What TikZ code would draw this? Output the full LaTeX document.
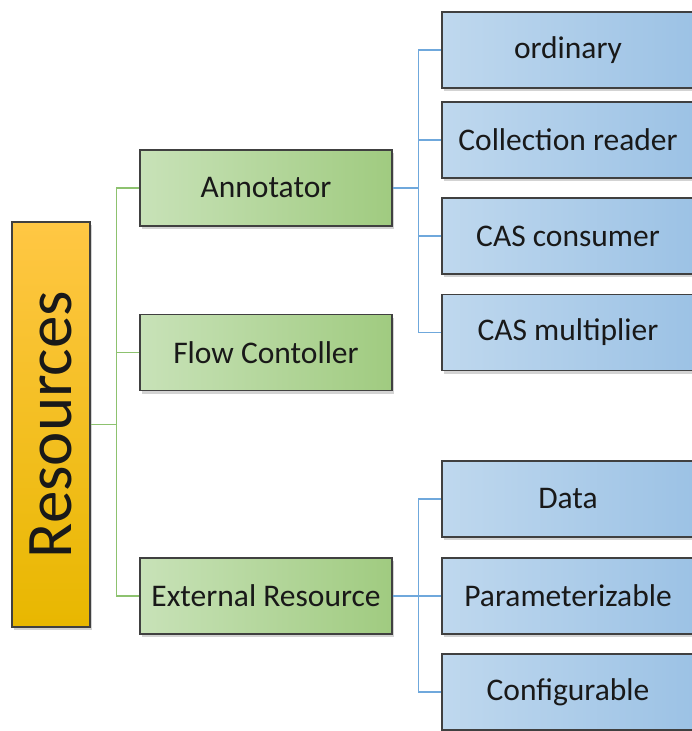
\documentclass[tikz,border=0pt]{standalone}
\usepackage{fontspec}
\setmainfont{Carlito}
\usetikzlibrary{shadows}
\definecolor{boxline}{HTML}{404040}
\definecolor{orangetop}{HTML}{FFC744}
\definecolor{orangebot}{HTML}{E8B700}
\definecolor{greenleft}{HTML}{C8E2B8}
\definecolor{greenright}{HTML}{A0CB80}
\definecolor{blueleft}{HTML}{BFD8EE}
\definecolor{blueright}{HTML}{9CC2E5}
\definecolor{greenwire}{HTML}{8DC26F}
\definecolor{bluewire}{HTML}{6FA8DC}
\tikzset{
  box/.style={draw=boxline, line width=1.4pt, inner sep=0pt, text=black!90,
    drop shadow={opacity=0.35, shadow xshift=2pt, shadow yshift=-3pt}},
  resbox/.style={box, rotate=90, minimum width=405pt, minimum height=78pt,
    top color=orangetop, bottom color=orangebot, font=\fontsize{65}{72}\selectfont},
  kindbox/.style={box, minimum width=252pt, minimum height=76pt,
    left color=greenleft, right color=greenright, font=\fontsize{31.5}{36}\selectfont},
  subbox/.style={box, minimum width=252pt, minimum height=76pt,
    left color=blueleft, right color=blueright, font=\fontsize{31.5}{36}\selectfont},
  gwire/.style={greenwire, line width=1.3pt},
  bwire/.style={bluewire, line width=1.3pt}
}
\begin{document}
\begin{tikzpicture}[x=1pt,y=-1pt]
    \useasboundingbox (0,0) rectangle (692,731);
    \clip (0,0) rectangle (692,731);
    % root
    \node[resbox] (res) at (51,424.5) {Resources};
    % kinds
    \node[kindbox] (ann) at (266,188) {Annotator};
    \node[kindbox] (flow) at (266,352.5) {Flow Contoller};
    \node[kindbox] (ext) at (266,596) {External Resource};
    % annotator types
    \node[subbox] (ord) at (568,50) {ordinary};
    \node[subbox] (coll) at (568,140) {Collection reader};
    \node[subbox] (cons) at (568,236) {CAS consumer};
    \node[subbox] (mult) at (568,332.5) {CAS multiplier};
    % resource types
    \node[subbox] (data) at (568,499) {Data};
    \node[subbox] (param) at (568,596) {Parameterizable};
    \node[subbox] (conf) at (568,692) {Configurable};
    % wires
    \draw[gwire] (res.south) -- ++(26,0) coordinate (gsplit);
    \foreach \n in {ann,flow,ext}
        \draw[gwire] (gsplit) |- (\n.west);
    \draw[bwire] (ann.east) -- ++(26,0) coordinate (asplit);
    \foreach \n in {ord,coll,cons,mult}
        \draw[bwire] (asplit) |- (\n.west);
    \draw[bwire] (ext.east) -- ++(26,0) coordinate (esplit);
    \foreach \n in {data,param,conf}
        \draw[bwire] (esplit) |- (\n.west);
\end{tikzpicture}
\end{document}
